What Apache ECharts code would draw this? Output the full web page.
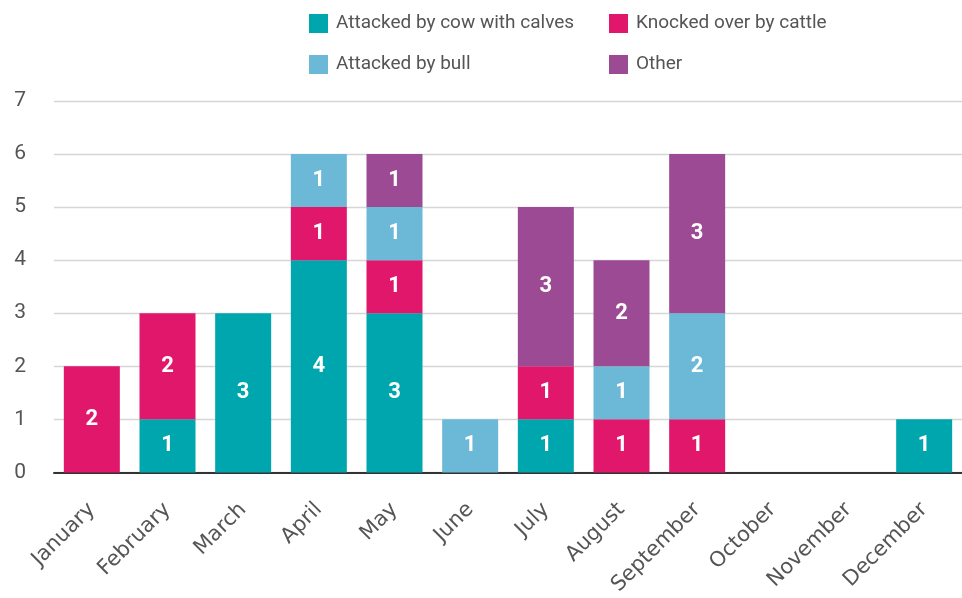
<!DOCTYPE html>
<html>
<head>
<meta charset="utf-8">
<script src="https://cdn.jsdelivr.net/npm/echarts@6/dist/echarts.min.js"></script>
<style>
  html, body { margin: 0; padding: 0; background: #fff; }
  #chart { width: 962px; height: 598px; }
</style>
</head>
<body>
<div id="chart"></div>
<script>
const months = ['January', 'February', 'March', 'April', 'May', 'June', 'July',
  'August', 'September', 'October', 'November', 'December']

// incidents per month, by cause
const cowWithCalves = [0, 1, 3, 4, 3, 0, 1, 0, 0, 0, 0, 1]
const knockedOver = [2, 2, 0, 1, 1, 0, 1, 1, 1, 0, 0, 0]
const attackedByBull = [0, 0, 0, 1, 1, 1, 0, 1, 2, 0, 0, 0]
const other = [0, 0, 0, 0, 1, 0, 3, 2, 3, 0, 0, 0]

const yTicks = [0, 7, 1] // min, max, interval

const FONT = 'Roboto'
const TEXT = '#555555'

const chart = echarts.init(document.getElementById('chart'))

function barSeries(name, data, color) {
  return {
    name,
    type: 'bar',
    stack: 'total',
    data,
    barWidth: 56,
    itemStyle: { color },
    label: {
      show: true,
      position: 'inside',
      color: '#fff',
      fontFamily: FONT,
      fontWeight: 'bold',
      fontSize: 22,
      formatter: p => (p.value ? String(p.value) : '')
    },
    emphasis: { disabled: true }
  }
}

const legendBase = {
  orient: 'vertical',
  top: 9,
  itemWidth: 19,
  itemHeight: 19,
  itemGap: 22,
  icon: 'rect',
  textStyle: { fontFamily: FONT, fontSize: 19, color: TEXT, padding: [0, 0, 0, 3] }
}

chart.setOption({
  animation: false,
  legend: [
    { ...legendBase, left: 304, data: ['Attacked by cow with calves', 'Attacked by bull'] },
    { ...legendBase, left: 604, data: ['Knocked over by cattle', 'Other'] }
  ],
  grid: { left: 54, right: -2, top: 101, bottom: 124 },
  xAxis: {
    type: 'category',
    data: months,
    axisTick: { show: false },
    axisLine: { lineStyle: { color: '#333', width: 2 } },
    axisLabel: {
      rotate: 45,
      margin: 34,
      interval: 0,
      fontFamily: '"DejaVu Sans", Verdana, sans-serif',
      fontSize: 21,
      color: TEXT
    }
  },
  yAxis: {
    type: 'value',
    min: yTicks[0],
    max: yTicks[1],
    interval: yTicks[2],
    axisLine: { show: false },
    axisTick: { show: false },
    splitLine: { lineStyle: { color: '#d6d6d6', width: 1.3 } },
    axisLabel: { margin: 28, fontFamily: FONT, fontSize: 21, color: TEXT }
  },
  series: [
    barSeries('Attacked by cow with calves', cowWithCalves, '#00A6AE'),
    barSeries('Knocked over by cattle', knockedOver, '#E0176A'),
    barSeries('Attacked by bull', attackedByBull, '#6CB9D7'),
    barSeries('Other', other, '#9C4A94')
  ]
})
</script>
</body>
</html>
